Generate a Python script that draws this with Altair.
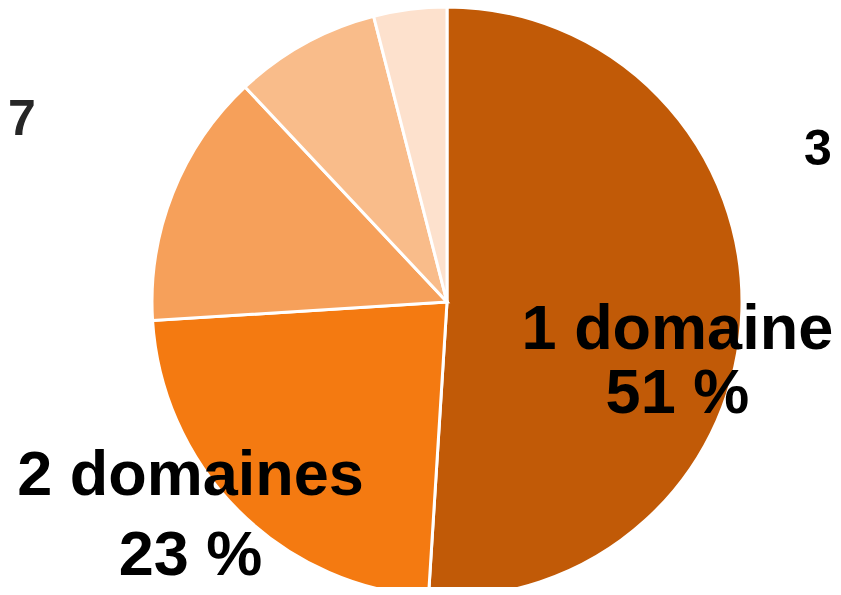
import altair as alt
import pandas as pd

categories = ["1 domaine", "2 domaines", "3 domaines", "4 domaines", "5 domaines"]
shares = [51, 23, 14, 8, 4]
colors = ["#C15A07", "#F47A11", "#F6A05A", "#F9BC8A", "#FDE1CD"]
ranks = [0, 1, 2, 3, 4]
fragment_left = ["7"]
fragment_right = ["3"]

df = pd.DataFrame({"cat": categories, "pct": shares, "rank": ranks})

theta_scale = alt.Scale(domain=[0, 100])
color_scale = alt.Scale(domain=categories, range=colors)

CX, CY, R = 439, 294, 295
FONT = "Liberation Sans"

arcs = alt.Chart(df).mark_arc(radius=R, stroke="white", strokeWidth=3).encode(
    theta=alt.Theta("pct:Q", stack=True, scale=theta_scale),
    color=alt.Color("cat:N", scale=color_scale, legend=None),
    order=alt.Order("rank:Q"),
    x=alt.value(CX),
    y=alt.value(CY),
)

base = alt.Chart(df).transform_window(
    cum="sum(pct)", sort=[alt.SortField("rank")]
).transform_calculate(
    mid="datum.cum - datum.pct / 2",
    label="datum.cat + '\\n' + datum.pct + ' %'",
)

def label_layer(rank, radius, dx, dy, line_height):
    return base.transform_filter(f"datum.rank == {rank}").mark_text(
        radius=radius, font=FONT, fontSize=63, fontWeight="bold", color="black",
        lineBreak="\n", lineHeight=line_height, align="center",
        baseline="alphabetic", dx=dx, dy=dy,
    ).encode(
        theta=alt.Theta("mid:Q", stack=None, scale=theta_scale),
        text="label:N",
        x=alt.value(CX),
        y=alt.value(CY),
    )

label1 = label_layer(0, 230, 0.5, 40, 64)
label2 = label_layer(1, 300, -44.4, -19, 80)

frag_l = alt.Chart(pd.DataFrame({"t": fragment_left})).mark_text(
    font=FONT, fontSize=50, fontWeight="bold", color="#262626",
    align="left", baseline="alphabetic",
).encode(text="t:N", x=alt.value(0), y=alt.value(127))

frag_r = alt.Chart(pd.DataFrame({"t": fragment_right})).mark_text(
    font=FONT, fontSize=50, fontWeight="bold", color="black",
    align="left", baseline="alphabetic",
).encode(text="t:N", x=alt.value(796), y=alt.value(157))

chart = alt.layer(arcs, label1, label2, frag_l, frag_r).properties(
    width=825, height=579, padding=0,
    autosize=alt.AutoSizeParams(type="none"),
).configure_view(strokeWidth=0)

chart.save("out.html", embed_options={"renderer": "svg", "actions": False})
